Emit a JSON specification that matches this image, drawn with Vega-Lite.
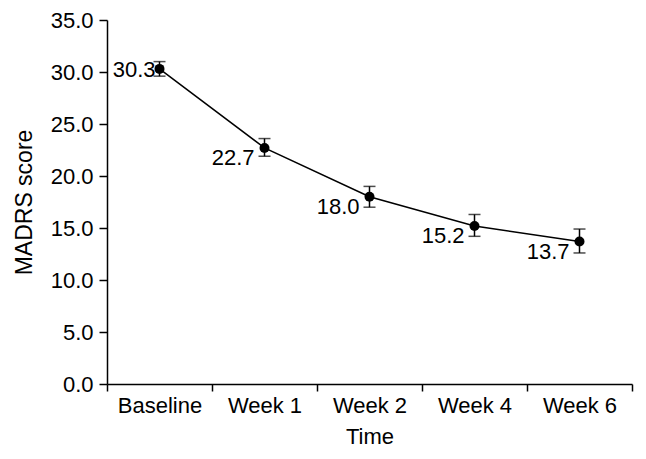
{
  "$schema": "https://vega.github.io/schema/vega-lite/v6.json",
  "width": 525,
  "height": 364,
  "autosize": "none",
  "padding": {"left": 107, "top": 20, "right": 14, "bottom": 75},
  "background": "white",
  "config": {"view": {"stroke": null}, "font": "Liberation Sans"},
  "data": {"values": [
    {"time": "Baseline", "score": 30.3, "lo": 29.6, "hi": 31.0},
    {"time": "Week 1", "score": 22.7, "lo": 21.9, "hi": 23.6},
    {"time": "Week 2", "score": 18.0, "lo": 17.0, "hi": 19.0},
    {"time": "Week 4", "score": 15.2, "lo": 14.2, "hi": 16.3},
    {"time": "Week 6", "score": 13.7, "lo": 12.6, "hi": 14.9}
  ]},
  "encoding": {
    "x": {
      "field": "time", "type": "nominal",
      "sort": ["Baseline", "Week 1", "Week 2", "Week 4", "Week 6"],
      "scale": {"type": "band", "paddingInner": 0, "paddingOuter": 0},
      "axis": {
        "title": "Time", "titleFontSize": 22, "titleFontWeight": "normal", "titleColor": "black", "titlePadding": 10,
        "labelFontSize": 22, "labelColor": "black", "labelAngle": 0, "labelPadding": 4,
        "tickBand": "extent", "tickSize": 7, "tickColor": "black", "domainColor": "black", "domainWidth": 1.5, "tickWidth": 1.5
      }
    }
  },
  "layer": [
    {
      "mark": {"type": "line", "color": "black", "strokeWidth": 1.5},
      "encoding": {
        "y": {
          "field": "score", "type": "quantitative",
          "scale": {"domain": [0, 35], "nice": false},
          "axis": {
            "title": "MADRS score", "titleFontSize": 23, "titleFontWeight": "normal", "titleColor": "black", "titlePadding": 14,
            "values": [0, 5, 10, 15, 20, 25, 30, 35], "format": ".1f",
            "labelFontSize": 22, "labelColor": "black", "labelPadding": 6,
            "tickSize": 8, "tickColor": "black", "tickWidth": 1.5, "domainColor": "black", "domainWidth": 1.5, "grid": false
          }
        }
      }
    },
    {
      "mark": {"type": "rule", "color": "black", "strokeWidth": 1.5},
      "encoding": {"y": {"field": "lo", "type": "quantitative"}, "y2": {"field": "hi"}}
    },
    {
      "mark": {"type": "tick", "color": "black", "size": 12, "thickness": 1.5, "orient": "horizontal"},
      "encoding": {"y": {"field": "lo", "type": "quantitative"}}
    },
    {
      "mark": {"type": "tick", "color": "black", "size": 12, "thickness": 1.5, "orient": "horizontal"},
      "encoding": {"y": {"field": "hi", "type": "quantitative"}}
    },
    {
      "mark": {"type": "point", "filled": true, "color": "black", "opacity": 1, "size": 100},
      "encoding": {"y": {"field": "score", "type": "quantitative"}}
    },
    {
      "transform": [{"filter": "datum.time === 'Baseline'"}],
      "mark": {"type": "text", "align": "right", "baseline": "middle", "dx": -4, "dy": 1, "fontSize": 22, "color": "black"},
      "encoding": {"y": {"field": "score", "type": "quantitative"}, "text": {"field": "score", "type": "quantitative", "format": ".1f"}}
    },
    {
      "transform": [{"filter": "datum.time !== 'Baseline'"}],
      "mark": {"type": "text", "align": "right", "baseline": "middle", "dx": -10, "dy": 10, "fontSize": 22, "color": "black"},
      "encoding": {"y": {"field": "score", "type": "quantitative"}, "text": {"field": "score", "type": "quantitative", "format": ".1f"}}
    }
  ]
}
